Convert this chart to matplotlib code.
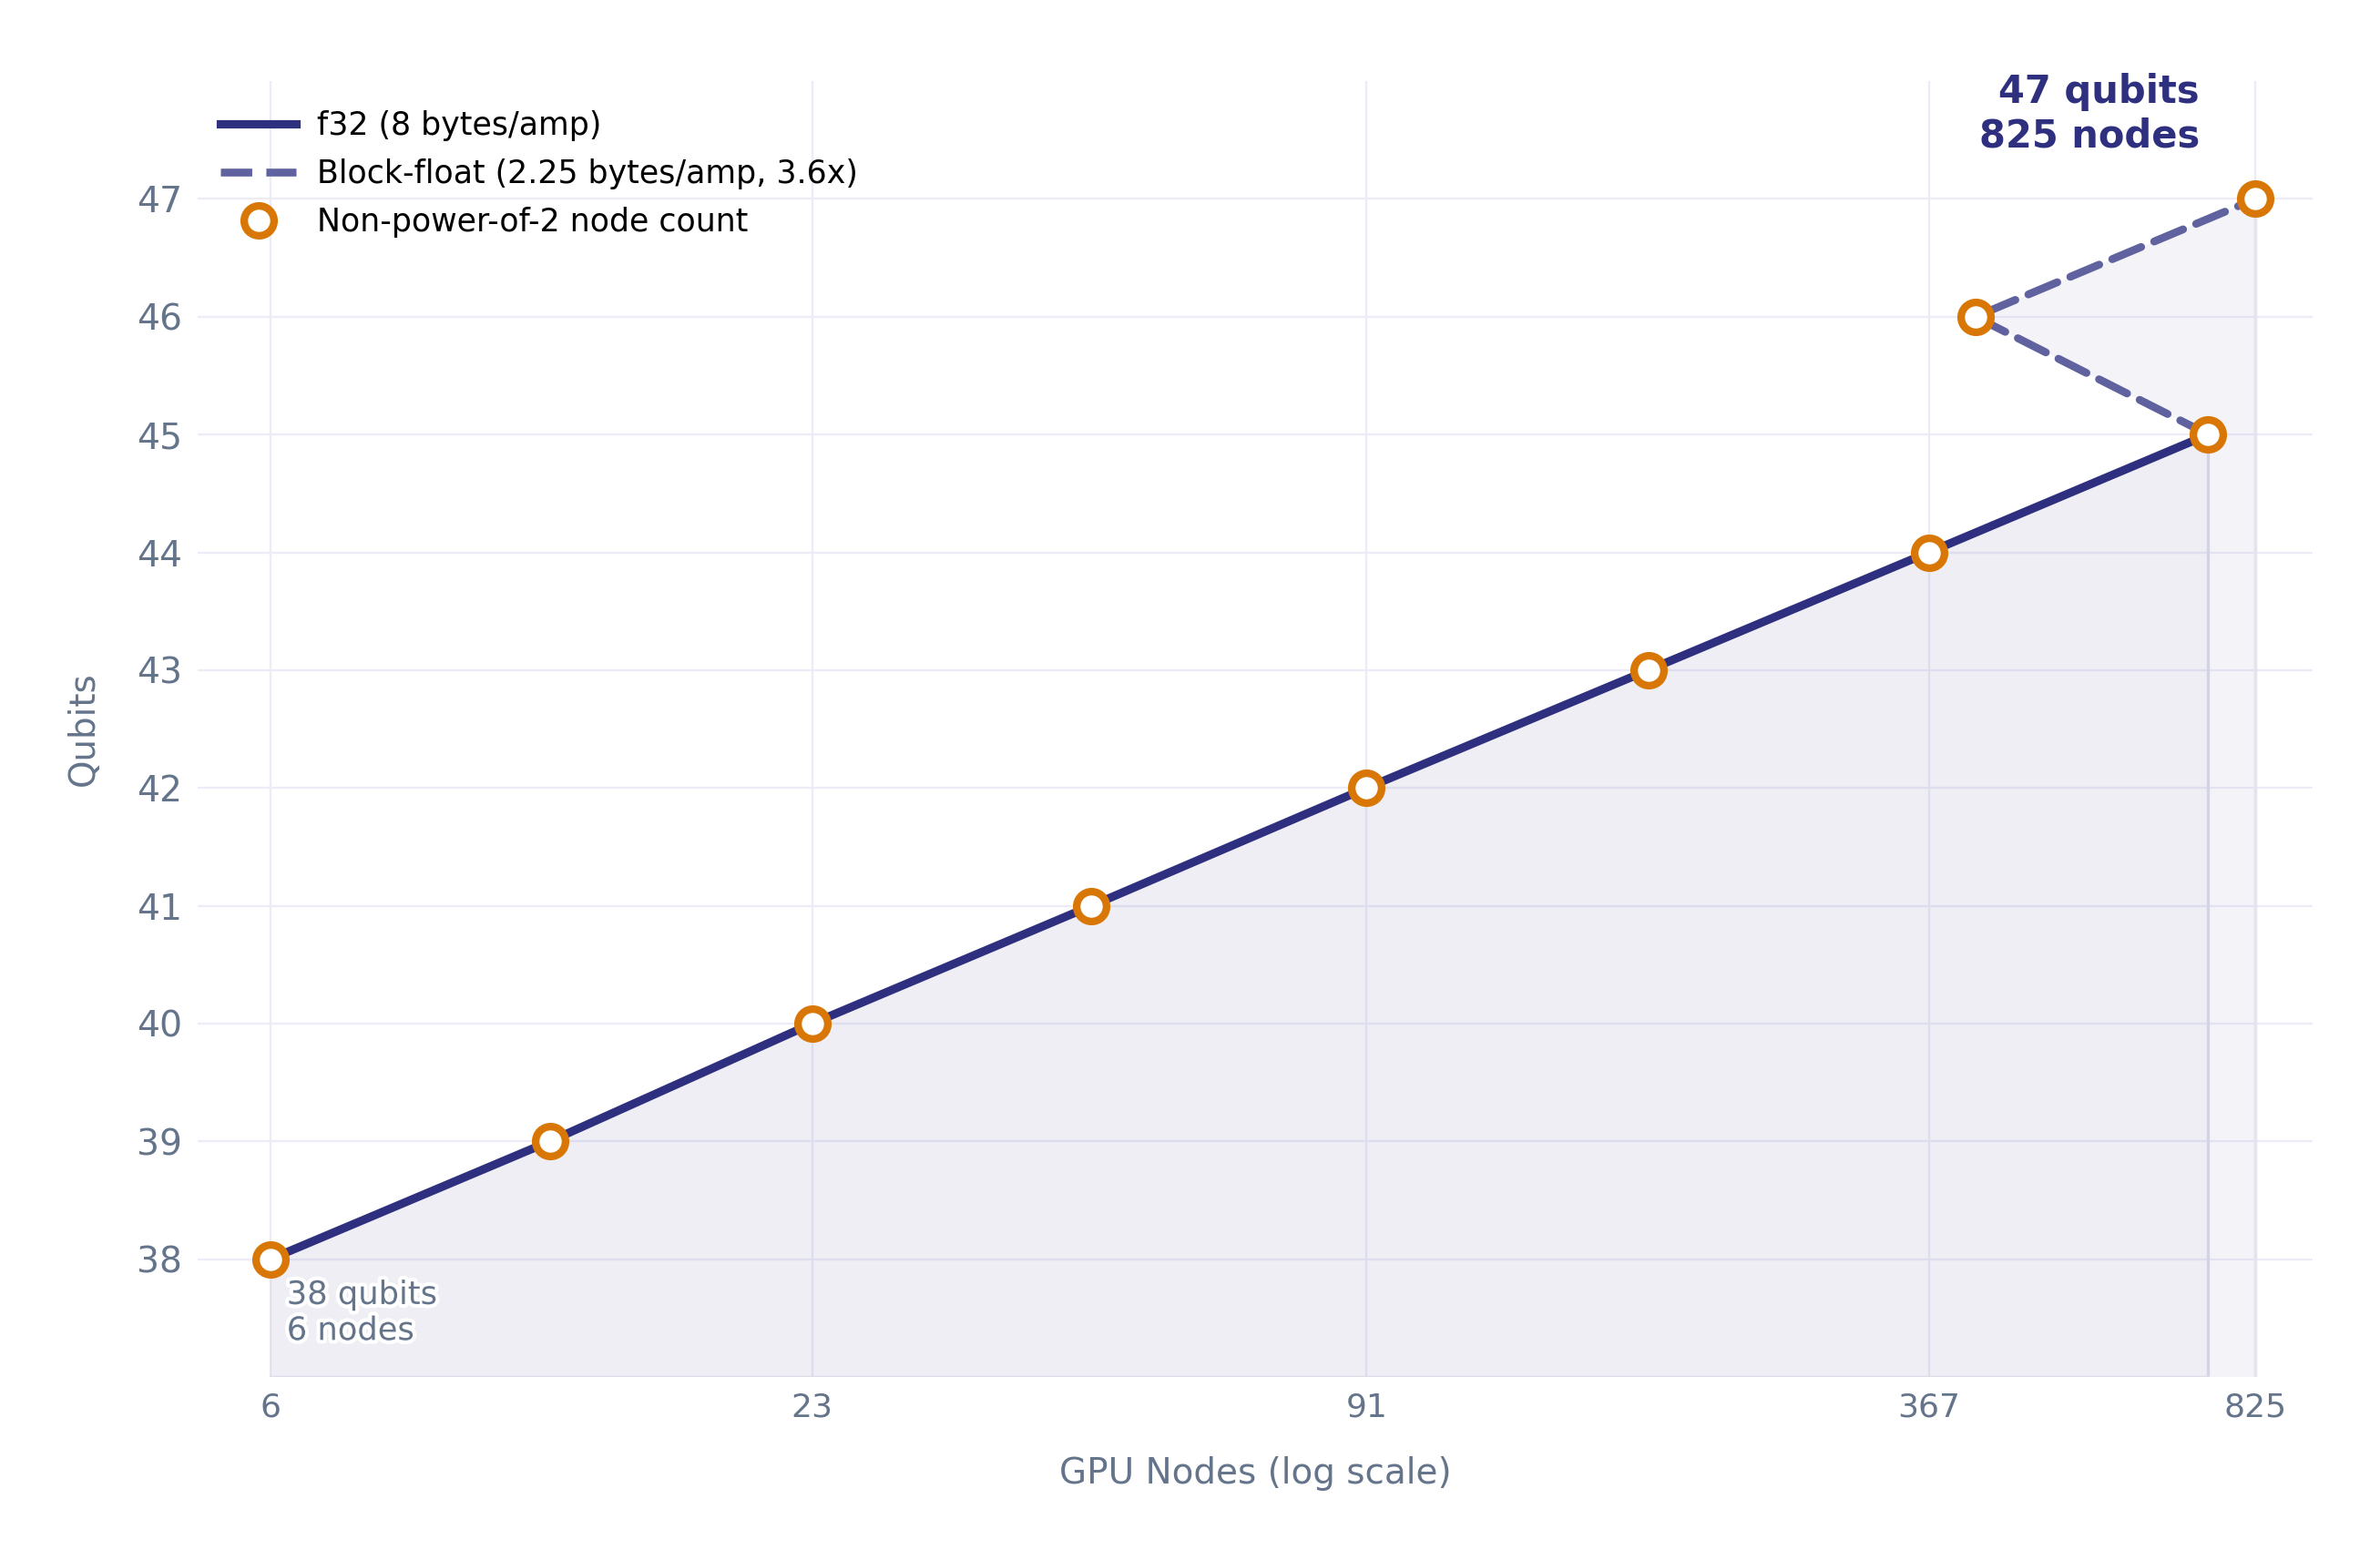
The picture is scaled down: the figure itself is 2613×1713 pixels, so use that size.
import numpy as np
import matplotlib
matplotlib.use("Agg")
import matplotlib.pyplot as plt
from matplotlib.lines import Line2D
import matplotlib.patheffects as pe

# data
f32_nodes = [6, 12, 23, 46, 91, 183, 367, 734]
f32_qubits = [38, 39, 40, 41, 42, 43, 44, 45]
bf_nodes = [734, 412, 825]
bf_qubits = [45, 46, 47]
xtick_vals = [6, 23, 91, 367, 825]
ytick_vals = list(range(38, 48))

navy = "#2e2f7e"
dash_col = "#6062a0"
orange = "#d97706"
gray = "#64748b"
grid_col = "#ececf7"
y_floor = 37

fig = plt.figure(figsize=(2613 / 200, 1713 / 200), dpi=200)
ax = fig.add_axes([0.0830, 0.1173, 0.9717 - 0.0830, 0.9480 - 0.1173])

ax.set_xscale("log")
ax.set_xlim(5.01, 951)
ax.set_ylim(37, 48)

# fills under the curves
ax.fill_between(f32_nodes, f32_qubits, y_floor, facecolor=navy, alpha=0.08,
                edgecolor="none", zorder=1)
ax.plot([f32_nodes[-1], f32_nodes[-1]], [y_floor, f32_qubits[-1]], color="#d3d4e3",
        lw=1.2, zorder=1.5)
ax.plot([f32_nodes[0], f32_nodes[-1]], [y_floor, y_floor], color="#dcdce9",
        lw=1.2, zorder=1.5)
poly_x = bf_nodes + [bf_nodes[-1], bf_nodes[0]]
poly_y = bf_qubits + [y_floor, y_floor]
ax.fill(poly_x, poly_y, facecolor=navy, alpha=0.05, edgecolor="none", zorder=1)
ax.plot([bf_nodes[-1], bf_nodes[-1]], [y_floor, bf_qubits[-1]], color="#e3e4ef",
        lw=1.2, zorder=1.5)

# lines
ax.plot(f32_nodes, f32_qubits, color=navy, lw=3.3, solid_capstyle="round", zorder=3)
ax.plot(bf_nodes, bf_qubits, color=dash_col, lw=3.1, dashes=(4.0, 1.8),
        dash_capstyle="round", zorder=3)

# markers
all_x = f32_nodes + bf_nodes[1:]
all_y = f32_qubits + bf_qubits[1:]
ax.plot(all_x, all_y, ls="none", marker="o", ms=11.8, mew=3.0, mfc="white",
        mec=orange, zorder=4)

# grid / axes styling
ax.set_xticks(xtick_vals)
ax.set_xticklabels([str(v) for v in xtick_vals])
ax.xaxis.set_minor_locator(matplotlib.ticker.NullLocator())
ax.set_yticks(ytick_vals)
ax.grid(True, color=grid_col, lw=0.8, zorder=0)
ax.set_axisbelow(True)
for s in ax.spines.values():
    s.set_visible(False)
ax.tick_params(axis="both", length=0, colors=gray)
ax.tick_params(axis="x", labelsize=13, pad=6)
ax.tick_params(axis="y", labelsize=14.2, pad=6)

ax.set_xlabel("GPU Nodes (log scale)", fontsize=14, color=gray, labelpad=13)
ax.set_ylabel("Qubits", fontsize=14, color=gray, labelpad=14)

# annotations
ax.annotate("47 qubits\n825 nodes", xy=(bf_nodes[-1], bf_qubits[-1]),
            xytext=(-22, 20.5), textcoords="offset points", ha="right",
            va="baseline", fontsize=15, fontweight="bold", color=navy,
            annotation_clip=False)
ax.annotate("38 qubits\n6 nodes", xy=(f32_nodes[0], f32_qubits[0]),
            xytext=(6.5, -8), textcoords="offset points", ha="left", va="top",
            fontsize=12.7, color=gray, zorder=5,
            path_effects=[pe.withStroke(linewidth=3, foreground="white")])

handles = [
    Line2D([], [], color=navy, lw=3.3),
    Line2D([], [], color=dash_col, lw=3.1, dashes=(4.0, 1.8)),
    Line2D([], [], ls="none", marker="o", ms=11.8, mew=3.0, mfc="white", mec=orange),
]
labels = ["f32 (8 bytes/amp)", "Block-float (2.25 bytes/amp, 3.6x)",
          "Non-power-of-2 node count"]
ax.legend(handles, labels, loc="upper left", bbox_to_anchor=(0.0108, 0.9775),
          frameon=False, fontsize=12.5, borderpad=0, borderaxespad=0,
          handlelength=2.4, handletextpad=0.66, labelspacing=0.55)

fig.savefig("out.png", dpi=200, facecolor="white")
